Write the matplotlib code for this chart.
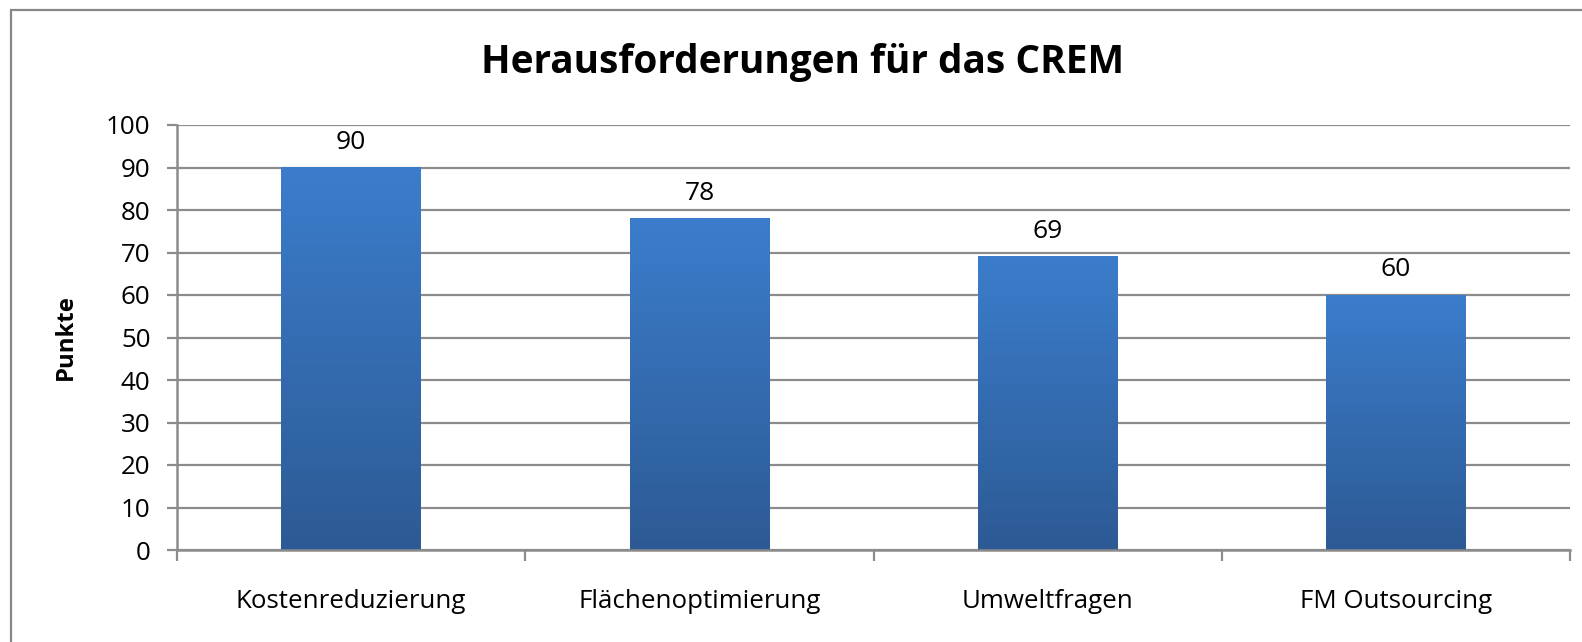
import matplotlib
matplotlib.use("Agg")
import matplotlib.pyplot as plt
import numpy as np
from matplotlib.colors import LinearSegmentedColormap
from matplotlib.patches import Rectangle

categories = ["Kostenreduzierung", "Flächenoptimierung", "Umweltfragen", "FM Outsourcing"]
values = [90, 78, 69, 60]
yticks = list(range(0, 101, 10))
title = "Herausforderungen für das CREM"
ylabel = "Punkte"

plt.rcParams['font.family'] = ['Open Sans', 'DejaVu Sans']

W, H = 1582, 642
fig = plt.figure(figsize=(W / 100, H / 100), dpi=100)
fig.patch.set_facecolor('white')

grid_col = '#8c8c8c'

# figure border (open to the right and bottom as in the reference)
fig.add_artist(Rectangle((11 / W, -0.05), 1.2, 1 - 10 / H + 0.05, transform=fig.transFigure,
                         fill=False, edgecolor='#878787', linewidth=1.6))

ax = fig.add_axes([177 / W, 1 - 550 / H, (1570 - 177) / W, (550 - 125) / H])
x = np.arange(len(categories))
bars = ax.bar(x, values, width=0.4, color='none', zorder=3)

cmap = LinearSegmentedColormap.from_list('g', ['#2d5a94', '#3b7dcc'])
grad = np.linspace(0, 1, 256).reshape(-1, 1)
for b, v in zip(bars, values):
    x0 = b.get_x()
    w = b.get_width()
    ax.imshow(grad, extent=[x0, x0 + w, 0, v], origin='lower', cmap=cmap,
              aspect='auto', zorder=3, interpolation='bilinear')
    ax.text(x0 + w / 2, v + 3.0, f"{v}", ha='center', va='bottom', fontsize=19, color='black')

ax.set_xlim(-0.5, len(categories) - 0.5)
ax.set_ylim(0, 100)
ax.set_yticks(yticks)
ax.set_yticklabels([str(t) for t in yticks], fontsize=18.7)
ax.set_xticks(x)
ax.set_xticklabels(categories, fontsize=18.6)
ax.tick_params(axis='x', length=0, pad=28)
ax.set_xticks(np.arange(-0.5, len(categories)), minor=True)
ax.tick_params(axis='x', which='minor', length=8, width=1.6, color=grid_col, direction='out')
ax.tick_params(axis='y', length=7, width=1.6, color=grid_col, direction='out', pad=12)
ax.yaxis.grid(True, color=grid_col, linewidth=1.6, zorder=1)
ax.set_axisbelow(True)
for s in ['top', 'right']:
    ax.spines[s].set_visible(False)
for s in ['left', 'bottom']:
    ax.spines[s].set_color(grid_col)
    ax.spines[s].set_linewidth(1.8)
    ax.spines[s].set_zorder(4)

ax.set_ylabel(ylabel, fontsize=17.2, fontweight='bold', labelpad=20)
fig.text(803 / W, 1 - 62 / H, title, ha='center', va='center', fontsize=27.9, fontweight='bold')

fig.savefig('out.png', dpi=100)
